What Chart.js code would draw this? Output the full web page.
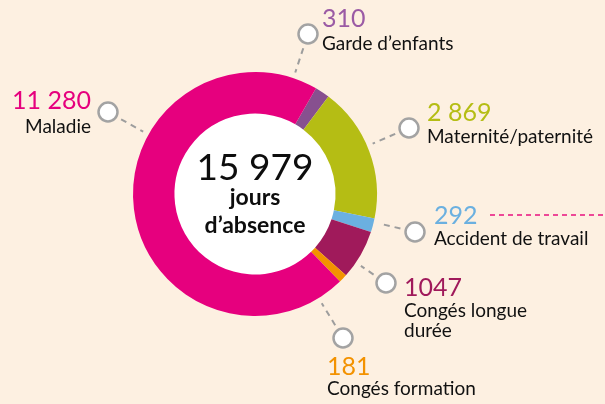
<!DOCTYPE html>
<html>
<head>
<meta charset="utf-8">
<script src="https://cdn.jsdelivr.net/npm/chart.js@4"></script>
<style>
  html, body { margin: 0; padding: 0; background: #fdf0e1; }
  #wrap { width: 605px; height: 404px; }
</style>
</head>
<body>
<div id="wrap"><canvas id="absences" width="605" height="404"></canvas></div>
<script>
// Data (clockwise, starting after the big "Maladie" slice)
const categories = ["Garde d’enfants", "Maternité/paternité", "Accident de travail", "Congés longue durée", "Congés formation", "Maladie"];
const days = [310, 2869, 292, 1047, 181, 11280];
const dayLabels = ["310", "2 869", "292", "1047", "181", "11 280"];
const labelLines = [["Garde d’enfants"], ["Maternité/paternité"], ["Accident de travail"], ["Congés longue", "durée"], ["Congés formation"], ["Maladie"]];
const centerLines = ["jours", "d’absence"];

const sliceColors = ["#87508f", "#b5bd14", "#6bb0e0", "#a01a5b", "#f39200", "#e6007e"];
const numberColors = ["#9b5ba5", "#b5bd14", "#6bb0e0", "#a01a5b", "#f39200", "#e6007e"];

// where each callout sits (circle marker + text)
const callouts = [
  { cx: 308, cy: 34, tx: 322, align: "left", nb: 27, lb: [50] },
  { cx: 409, cy: 128, tx: 427, align: "left", nb: 121, lb: [142.5] },
  { cx: 415, cy: 232, tx: 434, align: "left", nb: 224, lb: [245] },
  { cx: 386, cy: 283, tx: 404, align: "left", nb: 296, lb: [317, 337] },
  { cx: 343, cy: 338, tx: 327, align: "left", nb: 375, lb: [395] },
  { cx: 108, cy: 112, tx: 91, align: "right", nb: 109, lb: [133] },
];

const FONT = "Lato, 'Open Sans', sans-serif";

function fmt(n) {
  return String(n).replace(/\B(?=(\d{3})+(?!\d))/g, " ");
}

const decorPlugin = {
  id: "decor",
  beforeDatasetsDraw(chart) {
    const arc = chart.getDatasetMeta(0).data[0];
    const ctx = chart.ctx;
    ctx.save();
    ctx.fillStyle = "#ffffff";
    ctx.beginPath();
    ctx.arc(arc.x, arc.y, arc.innerRadius + 1, 0, Math.PI * 2);
    ctx.fill();
    ctx.restore();
  },
  afterDraw(chart) {
    const ctx = chart.ctx;
    const arc = chart.getDatasetMeta(0).data[0];
    const x0 = arc.x, y0 = arc.y, rOut = arc.outerRadius;

    ctx.save();

    // pink dashed rule at the top right
    ctx.strokeStyle = "#e8107f";
    ctx.lineWidth = 1.4;
    ctx.setLineDash([5, 4]);
    ctx.beginPath();
    ctx.moveTo(490, 215);
    ctx.lineTo(605, 215);
    ctx.stroke();

    callouts.forEach((c, i) => {
      // leader line, radial toward the doughnut centre
      const dx = x0 - c.cx, dy = y0 - c.cy;
      const d = Math.hypot(dx, dy);
      const ux = dx / d, uy = dy / d;
      const start = 15, end = d - rOut - 6;
      ctx.strokeStyle = "#9d9d9d";
      ctx.lineWidth = 2;
      ctx.setLineDash([6, 5]);
      ctx.beginPath();
      ctx.moveTo(c.cx + ux * start, c.cy + uy * start);
      ctx.lineTo(c.cx + ux * end, c.cy + uy * end);
      ctx.stroke();

      // marker
      ctx.setLineDash([]);
      ctx.fillStyle = "#ffffff";
      ctx.strokeStyle = "#a3a3a3";
      ctx.lineWidth = 2.5;
      ctx.beginPath();
      ctx.arc(c.cx, c.cy, 9.5, 0, Math.PI * 2);
      ctx.fill();
      ctx.stroke();

      // value + label
      ctx.textAlign = c.align;
      ctx.textBaseline = "alphabetic";
      ctx.fillStyle = numberColors[i];
      ctx.font = "25px " + FONT;
      ctx.fillText(dayLabels[i], c.tx, c.nb);
      ctx.fillStyle = "#111111";
      ctx.font = "19px " + FONT;
      labelLines[i].forEach((t, k) => ctx.fillText(t, c.tx, c.lb[k]));
    });

    // centre text
    const total = days.reduce((a, b) => a + b, 0);
    ctx.textAlign = "center";
    ctx.fillStyle = "#0d0d0d";
    ctx.font = "37px " + FONT;
    ctx.fillText(fmt(total), x0, y0 - 14);
    ctx.font = "bold 23px " + FONT;
    ctx.fillText(centerLines[0], x0, y0 + 11);
    ctx.fillText(centerLines[1], x0, y0 + 39);

    ctx.restore();
  }
};

const config = {
  type: "doughnut",
  data: {
    labels: categories,
    datasets: [
      {
        data: days,
        backgroundColor: sliceColors,
        borderWidth: 0,
        hoverOffset: 0,
      },
    ],
  },
  options: {
    responsive: false,
    animation: false,
    cutout: "66%",
    rotation: 30,
    layout: {
      padding: { left: 133, right: 228, top: 72, bottom: 88 },
    },
    plugins: {
      legend: { display: false },
      tooltip: { enabled: false },
    },
  },
  plugins: [decorPlugin],
};

const canvas = document.getElementById("absences");
const myChart = new Chart(canvas, config);
</script>
</body>
</html>
